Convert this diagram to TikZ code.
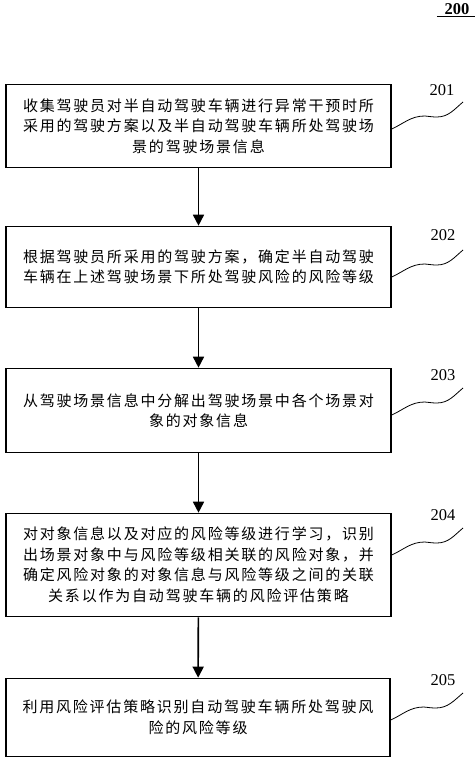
\documentclass[tikz,border=0pt]{standalone}
\usepackage{fontspec}
\setmainfont{Liberation Serif}
\newfontfamily\cjk[LetterSpace=12]{Noto Sans CJK SC}
\usetikzlibrary{arrows.meta}

\begin{document}
\begin{tikzpicture}[x=1pt,y=1pt,
  stepbox/.style={draw=black,line width=1.6pt,inner sep=0pt,minimum width=385pt,align=center,font=\cjk\fontsize{15}{20.5}\selectfont},
  flow/.style={line width=1.6pt,-{Triangle[width=11pt,length=11pt]}},
  lead/.style={line width=0.8pt},
  refnum/.style={inner sep=0pt,font=\fontsize{16.5}{18}\selectfont}]
\useasboundingbox (0,0) rectangle (474,-759);
\node[inner sep=1.5pt,font=\bfseries\fontsize{16.5}{18}\selectfont] (n0) at (457,-9) {200};
\draw[line width=1pt] ([xshift=-6pt]n0.south west) -- ([xshift=6pt]n0.south east);
\node[stepbox,minimum height=83pt] (b1) at (198.5,-126) {收集驾驶员对半自动驾驶车辆进行异常干预时所\\采用的驾驶方案以及半自动驾驶车辆所处驾驶场\\景的驾驶场景信息};
\node[stepbox,minimum height=81pt] (b2) at (198.5,-267) {根据驾驶员所采用的驾驶方案，确定半自动驾驶\\车辆在上述驾驶场景下所处驾驶风险的风险等级};
\node[stepbox,minimum height=84pt] (b3) at (198.5,-410.5) {从驾驶场景信息中分解出驾驶场景中各个场景对\\象的对象信息};
\node[stepbox,minimum height=103pt] (b4) at (198.5,-565) {对对象信息以及对应的风险等级进行学习，识别\\出场景对象中与风险等级相关联的风险对象，并\\确定风险对象的对象信息与风险等级之间的关联\\关系以作为自动驾驶车辆的风险评估策略};
\node[stepbox,minimum height=78pt,minimum width=384pt] (b5) at (198,-717.5) {利用风险评估策略识别自动驾驶车辆所处驾驶风\\险的风险等级};
\draw[flow] (b1) -- (b2);
\draw[flow] (b2) -- (b3);
\draw[flow] (b3) -- (b4);
\draw[flow] (b4) -- (b5);
% reference numerals
\coordinate (e1) at (463,-102);
\coordinate (e2) at (463,-250);
\coordinate (e3) at (463,-388);
\coordinate (e4) at (463,-528);
\coordinate (e5) at (463,-693);
\node[refnum] (n1) at (442,-90) {201};
\node[refnum] (n2) at (443,-235) {202};
\node[refnum] (n3) at (443,-375) {203};
\node[refnum] (n4) at (443,-515) {204};
\node[refnum] (n5) at (443,-680) {205};
\draw[lead] ([yshift=-3pt]b1.east) to[out=25,in=180] ++(33,13) to[out=-5,in=180] ++(12,-1) to[out=0,in=220] (e1);
\draw[lead] ([yshift=-10pt]b2.east) to[out=25,in=180] ++(33,13) to[out=-5,in=180] ++(12,-1) to[out=0,in=220] (e2);
\draw[lead] ([yshift=-4.5pt]b3.east) to[out=25,in=180] ++(33,13) to[out=-5,in=180] ++(12,-1) to[out=0,in=220] (e3);
\draw[lead] ([yshift=10pt]b4.east) to[out=25,in=180] ++(33,13) to[out=-5,in=180] ++(12,-1) to[out=0,in=220] (e4);
\draw[lead] ([yshift=-2.5pt]b5.east) to[out=25,in=180] ++(33,13) to[out=-5,in=180] ++(12,-1) to[out=0,in=220] (e5);
\end{tikzpicture}
\end{document}
